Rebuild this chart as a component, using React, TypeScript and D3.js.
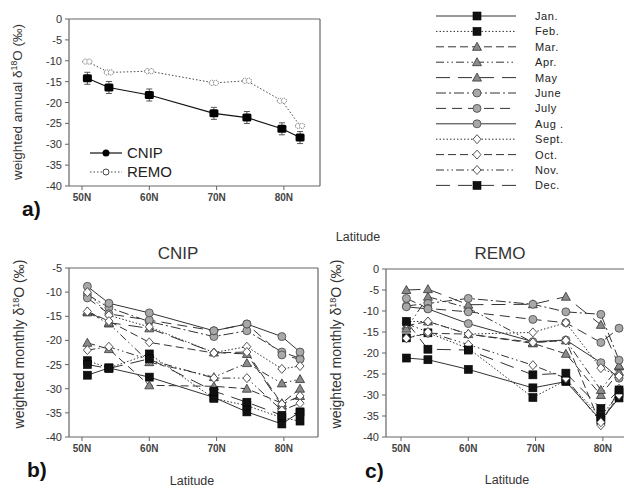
import React from "react";
import * as d3 from "d3";

const latitudes = [50.8, 54.0, 60.0, 69.6, 74.5, 79.7, 82.4];
const annualCNIP = [-14.2, -16.4, -18.2, -22.6, -23.6, -26.3, -28.4];
const annualREMO = [-10.2, -12.8, -12.5, -15.3, -14.8, -19.6, -25.6];
const xTickValues = [50, 60, 70, 80];
const xTickLabels = ["50N", "60N", "70N", "80N"];
const months = ["Jan.", "Feb.", "Mar.", "Apr.", "May", "June", "July", "Aug .", "Sept.", "Oct.", "Nov.", "Dec."];
const monthMarkers = ["square", "square", "triangle", "triangle", "triangle", "circle", "circle", "circle", "diamond", "diamond", "diamond", "square"];
const monthDashes = ["", "1.5,2", "8,4", "8,3,1.5,3,1.5,3", "14,8", "10,3,2,3", "10,6", "", "1.5,2", "8,4", "8,3,1.5,3,1.5,3", "14,8"];

const cnipJan = [-27.2, -25.7, -27.6, -31.8, -34.8, -37.3, -34.8];
const cnipFeb = [-24.2, -25.7, -22.8, -32.0, -33.5, -36.0, -36.7];
const cnipMar = [-20.5, -21.8, -29.3, -29.5, -30.0, -33.0, -30.0];
const cnipApr = [-14.2, -16.5, -24.5, -27.6, -24.7, -28.9, -28.0];
const cnipMay = [-14.0, -16.3, -17.5, -22.5, -22.8, -33.5, -31.5];
const cnipJun = [-10.5, -13.2, -16.1, -19.2, -18.0, -22.4, -23.7];
const cnipJul = [-11.2, -14.5, -15.8, -18.0, -16.6, -23.0, -23.9];
const cnipAug = [-8.8, -12.3, -14.3, -18.0, -16.6, -19.2, -22.4];
const cnipSep = [-10.0, -14.8, -17.2, -22.5, -21.3, -25.9, -25.3];
const cnipOct = [-14.0, -16.0, -20.4, -22.6, -22.4, -33.2, -31.5];
const cnipNov = [-22.0, -21.3, -24.0, -27.8, -27.8, -34.5, -33.0];
const cnipDec = [-25.0, -25.8, -23.8, -30.5, -32.8, -35.5, -35.0];

const remoJan = [-21.2, -21.6, -23.9, -28.3, -26.8, -36.0, -30.7];
const remoFeb = [-16.4, -15.2, -18.9, -30.6, -26.5, -35.2, -29.5];
const remoMar = [-13.5, -12.5, -15.5, -17.7, -20.2, -30.0, -24.5];
const remoApr = [-14.2, -6.6, -9.3, -17.5, -17.0, -28.8, -23.2];
const remoMay = [-5.0, -4.8, -8.5, -8.4, -6.6, -13.3, -23.0];
const remoJun = [-8.8, -8.2, -7.0, -8.4, -10.2, -10.8, -21.7];
const remoJul = [-7.0, -9.4, -10.2, -12.0, -12.8, -17.5, -14.1];
const remoAug = [-9.0, -9.5, -13.0, -17.3, -16.9, -22.3, -26.0];
const remoSep = [-12.5, -12.5, -15.5, -15.1, -12.8, -23.6, -25.5];
const remoOct = [-16.5, -15.3, -15.5, -17.5, -17.0, -37.2, -28.5];
const remoNov = [-13.0, -15.0, -18.0, -22.9, -26.0, -36.5, -30.0];
const remoDec = [-12.5, -19.1, -19.3, -25.2, -24.8, -33.2, -28.8];

const cnipMonthly = [cnipJan, cnipFeb, cnipMar, cnipApr, cnipMay, cnipJun, cnipJul, cnipAug, cnipSep, cnipOct, cnipNov, cnipDec];
const remoMonthly = [remoJan, remoFeb, remoMar, remoApr, remoMay, remoJun, remoJul, remoAug, remoSep, remoOct, remoNov, remoDec];

const LINE = "#333";
const AXIS = "#666";
const FONT = "Arial, 'Liberation Sans', sans-serif";

function Marker({ kind, x, y }: { kind: string; x: number; y: number }) {
  if (kind === "square") return <rect x={x - 4} y={y - 4} width={8} height={8} fill="#111" stroke="#000" strokeWidth={0.6} />;
  if (kind === "triangle") {
    const p = `${x},${y - 4.5} ${x + 4.5},${y + 3.5} ${x - 4.5},${y + 3.5}`;
    return <polygon points={p} fill="#8a8a8a" stroke="#333" strokeWidth={0.8} />;
  }
  if (kind === "circle") return <circle cx={x} cy={y} r={4} fill="#a8a8a8" stroke="#444" strokeWidth={0.8} />;
  const p = `${x},${y - 4.5} ${x + 4},${y} ${x},${y + 4.5} ${x - 4},${y}`;
  return <polygon points={p} fill="#fff" stroke="#444" strokeWidth={0.9} />;
}

function Axes({ x, y, yTicks, x0, x1, y0, y1, showRight }: any) {
  return (
    <g fontFamily={FONT}>
      <line x1={x0} y1={y0} x2={x1} y2={y0} stroke={AXIS} strokeWidth={1.2} />
      <line x1={x0} y1={y1} x2={x1} y2={y1} stroke={AXIS} strokeWidth={1.2} />
      <line x1={x0} y1={y0} x2={x0} y2={y1} stroke={AXIS} strokeWidth={1.2} />
      {showRight && <line x1={x1} y1={y0} x2={x1} y2={y1} stroke={AXIS} strokeWidth={1.2} />}
      {yTicks.map((t: number) => (
        <g key={t}>
          <line x1={x0 - 4} x2={x0} y1={y(t)} y2={y(t)} stroke={AXIS} />
          <text x={x0 - 7} y={y(t) + 4} textAnchor="end" fontSize={11} fill="#333">{t}</text>
        </g>
      ))}
      {xTickValues.map((t, i) => (
        <g key={t}>
          <line x1={x(t)} x2={x(t)} y1={y1} y2={y1 + 4} stroke={AXIS} />
          <text x={x(t)} y={y1 + 15} textAnchor="middle" fontSize={10} fontWeight="bold" fill="#444">{xTickLabels[i]}</text>
        </g>
      ))}
    </g>
  );
}

function YLabel({ x, y, kind, size }: { x: number; y: number; kind: string; size: number }) {
  return (
    <text transform={`translate(${x},${y}) rotate(-90)`} textAnchor="middle" fontSize={size} fill="#333" fontFamily={FONT}>
      {`weighted ${kind} δ`}
      <tspan fontSize={size * 0.65} dy={-5}>18</tspan>
      <tspan dy={5}>O (‰)</tspan>
    </text>
  );
}

function MonthlyPanel({ data, x, y }: any) {
  const line = d3.line<number>().x((_, i) => x(latitudes[i])).y((v) => y(v));
  return (
    <g>
      {data.map((s: number[], m: number) => (
        <path key={m} d={line(s) || ""} fill="none" stroke={LINE} strokeWidth={1} strokeDasharray={monthDashes[m]} />
      ))}
      {data.map((s: number[], m: number) =>
        s.map((v, i) => <Marker key={`${m}-${i}`} kind={monthMarkers[m]} x={x(latitudes[i])} y={y(v)} />)
      )}
    </g>
  );
}

export default function App() {
  const xa = d3.scaleLinear().domain([48.07, 85.36]).range([69, 320]);
  const ya = d3.scaleLinear().domain([0, -40]).range([19, 186]);
  const xb = d3.scaleLinear().domain([48.07, 85.07]).range([69, 318]);
  const yb = d3.scaleLinear().domain([-5, -40]).range([268, 437]);
  const xc = d3.scaleLinear().domain([47.77, 85.07]).range([386, 637]);
  const yc = d3.scaleLinear().domain([0, -40]).range([269, 437]);

  const lineA = d3.line<number>().x((_, i) => xa(latitudes[i])).y((v) => ya(v));

  return (
    <svg width={624} height={488} style={{ position: "absolute", left: 0, top: 0, background: "#fff" }}>
      <rect width={624} height={488} fill="#fff" />
      {/* Panel a */}
      <Axes x={xa} y={ya} yTicks={[0, -5, -10, -15, -20, -25, -30, -35, -40]} x0={69} x1={320} y0={19} y1={186} showRight />
      <path d={lineA(annualREMO) || ""} fill="none" stroke="#444" strokeWidth={1} strokeDasharray="1.5,2" />
      <path d={lineA(annualCNIP) || ""} fill="none" stroke="#111" strokeWidth={1.2} />
      {annualREMO.map((v, i) => (
        <g key={`r${i}`}>
          <line x1={xa(latitudes[i]) - 5} x2={xa(latitudes[i]) + 5} y1={ya(v)} y2={ya(v)} stroke="#777" strokeDasharray="1,1" />
          <circle cx={xa(latitudes[i]) - 2} cy={ya(v)} r={2.6} fill="#fff" stroke="#555" strokeWidth={0.8} strokeDasharray="1.2,0.8" />
          <circle cx={xa(latitudes[i]) + 2} cy={ya(v)} r={2.6} fill="#fff" stroke="#555" strokeWidth={0.8} strokeDasharray="1.2,0.8" />
        </g>
      ))}
      {annualCNIP.map((v, i) => (
        <g key={`c${i}`}>
          <line x1={xa(latitudes[i])} x2={xa(latitudes[i])} y1={ya(v) - 6} y2={ya(v) + 6} stroke="#555" />
          <line x1={xa(latitudes[i]) - 3} x2={xa(latitudes[i]) + 3} y1={ya(v) - 6} y2={ya(v) - 6} stroke="#555" />
          <line x1={xa(latitudes[i]) - 3} x2={xa(latitudes[i]) + 3} y1={ya(v) + 6} y2={ya(v) + 6} stroke="#555" />
          <rect x={xa(latitudes[i]) - 4.5} y={ya(v) - 4} width={9} height={8} rx={1.5} fill="#000" />
        </g>
      ))}
      <g fontFamily={FONT}>
        <line x1={90} x2={122} y1={153} y2={153} stroke="#111" strokeWidth={1.2} />
        <circle cx={106} cy={153} r={3.5} fill="#000" />
        <text x={127} y={158} fontSize={15} fill="#222">CNIP</text>
        <line x1={90} x2={122} y1={172} y2={172} stroke="#444" strokeDasharray="1.5,2" />
        <circle cx={106} cy={172} r={3} fill="#fff" stroke="#444" />
        <text x={127} y={177} fontSize={15} fill="#222">REMO</text>
      </g>
      <YLabel x={22} y={102} kind="annual" size={13.5} />
      <text x={22} y={216} fontSize={21} fontWeight="bold" fontFamily={FONT} fill="#111">a)</text>
      <text x={358} y={241} fontSize={12.5} textAnchor="middle" fontFamily={FONT} fill="#333">Latitude</text>

      {/* Legend */}
      <g fontFamily={FONT}>
        {months.map((m, i) => {
          const yy = 16 + i * 15.4;
          return (
            <g key={m}>
              <line x1={436} x2={516} y1={yy} y2={yy} stroke={LINE} strokeWidth={1} strokeDasharray={monthDashes[i]} />
              <Marker kind={monthMarkers[i]} x={477} y={yy} />
              <text x={535} y={yy + 4} fontSize={11} letterSpacing={0.6} fill="#222">{m}</text>
            </g>
          );
        })}
      </g>

      {/* Panel b */}
      <text x={178} y={259} fontSize={17} textAnchor="middle" fontFamily={FONT} fill="#333">CNIP</text>
      <Axes x={xb} y={yb} yTicks={[-5, -10, -15, -20, -25, -30, -35, -40]} x0={69} x1={318} y0={268} y1={437} showRight />
      <MonthlyPanel data={cnipMonthly} x={xb} y={yb} />
      <YLabel x={24} y={344} kind="monthly" size={14} />
      <text x={27} y={477} fontSize={21} fontWeight="bold" fontFamily={FONT} fill="#111">b)</text>
      <text x={192} y={485} fontSize={12.5} textAnchor="middle" fontFamily={FONT} fill="#333">Latitude</text>

      {/* Panel c */}
      <text x={500} y={259} fontSize={17} textAnchor="middle" fontFamily={FONT} fill="#333">REMO</text>
      <Axes x={xc} y={yc} yTicks={[0, -5, -10, -15, -20, -25, -30, -35, -40]} x0={386} x1={637} y0={269} y1={437} showRight={false} />
      <MonthlyPanel data={remoMonthly} x={xc} y={yc} />
      <YLabel x={341} y={344} kind="monthly" size={14} />
      <text x={365} y={478} fontSize={21} fontWeight="bold" fontFamily={FONT} fill="#111">c)</text>
      <text x={507} y={484} fontSize={12.5} textAnchor="middle" fontFamily={FONT} fill="#333">Latitude</text>
    </svg>
  );
}
